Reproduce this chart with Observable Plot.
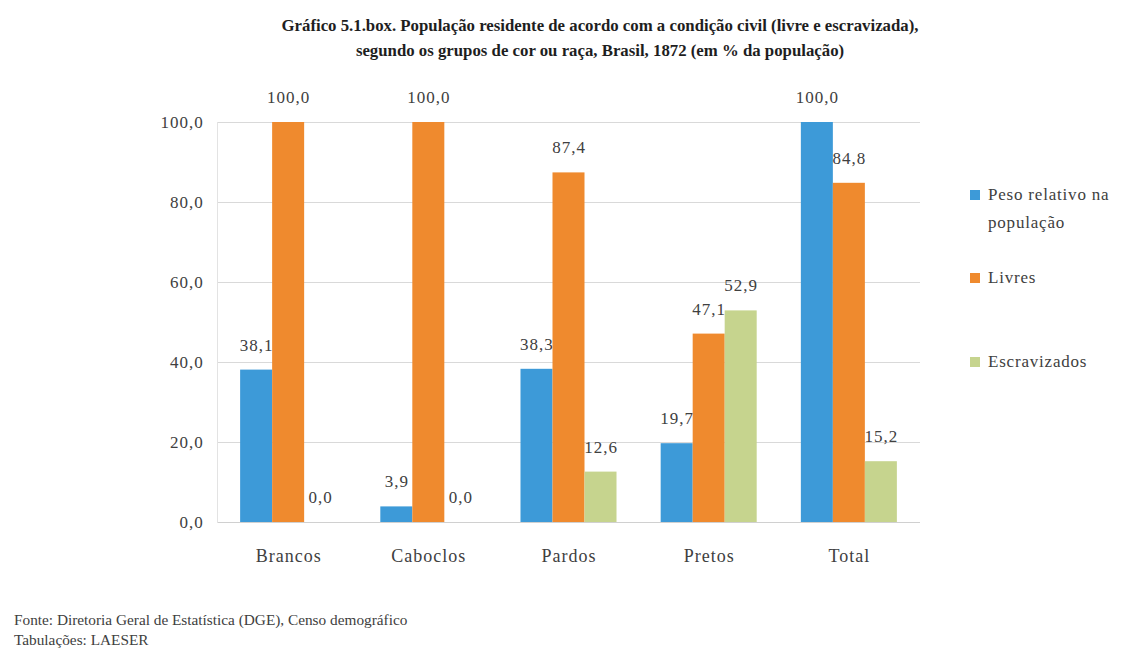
<!DOCTYPE html>
<html>
<head>
<meta charset="utf-8">
<script src="https://cdn.jsdelivr.net/npm/d3@7"></script>
<script src="https://cdn.jsdelivr.net/npm/@observablehq/plot@0.6"></script>
<style>
  body { margin: 0; background: #ffffff; width: 1123px; height: 655px; position: relative; overflow: hidden; font-family: "Liberation Serif", serif; }
  #title { position: absolute; top: 13px; left: 0; width: 1200px; text-align: center; font-weight: bold; font-size: 16.8px; line-height: 25px; color: #1e1e1e; font-family: "Liberation Serif", serif; }
  #bg, #chart { position: absolute; top: 70px; left: 0; }
  #legend { position: absolute; left: 970px; top: 0; font-size: 17px; color: #404040; letter-spacing: 0.8px; font-family: "Liberation Serif", serif; }
  .item { position: absolute; left: 0; white-space: nowrap; }
  .sw { position: absolute; left: 0; width: 10px; height: 10px; }
  .lab { position: absolute; left: 18px; line-height: 28px; }
  #caption { position: absolute; left: 14px; top: 610px; font-size: 15.3px; line-height: 20px; color: #404040; font-family: "Liberation Serif", serif; }
  svg text { font-family: "Liberation Serif", serif; }
  g[aria-label="y-axis tick label"] text, g[aria-label="text"] text, g[aria-label="fx-axis tick label"] text { letter-spacing: 1px; }
</style>
</head>
<body>
<div id="title">Gráfico 5.1.box. População residente de acordo com a condição civil (livre e escravizada),<br>segundo os grupos de cor ou raça, Brasil, 1872 (em % da população)</div>
<div id="bg"></div>
<div id="chart"></div>
<div id="legend"></div>
<div id="caption">Fonte: Diretoria Geral de Estatística (DGE), Censo demográfico<br>Tabulações: LAESER</div>
<script>
const categories = ["Brancos", "Caboclos", "Pardos", "Pretos", "Total"];
const seriesNames = ["Peso relativo na população", "Livres", "Escravizados"];
const peso = [38.1, 3.9, 38.3, 19.7, 100.0];
const livres = [100.0, 100.0, 87.4, 47.1, 84.8];
const escravizados = [0.0, 0.0, 12.6, 52.9, 15.2];
const colors = ["#3d9ad8", "#ef8a2e", "#c6d48e"];
const yTicks = [0, 20, 40, 60, 80, 100];

const seriesValues = [peso, livres, escravizados];
const rows = [];
seriesNames.forEach((s, i) => categories.forEach((c, j) => rows.push({cat: c, series: s, value: seriesValues[i][j]})));

const fmt = v => v.toFixed(1).replace(".", ",");
const serif = "Liberation Serif, serif";

const dims = {width: 1123, height: 530, marginLeft: 217, marginRight: 203, marginTop: 52, marginBottom: 78};

// background layer: gridlines spanning the full plot area (same y scale)
const bg = Plot.plot({
  ...dims,
  style: {fontFamily: serif, background: "transparent"},
  x: {axis: null},
  y: {domain: [0, 100], axis: null},
  marks: [
    Plot.ruleY(yTicks.filter(d => d > 0), {stroke: "#d9d9d9", strokeWidth: 1.2}),
    Plot.ruleY([0], {stroke: "#d0d0d0", strokeWidth: 1.2}),
    Plot.frame({anchor: "left", stroke: "#e3e3e3"})
  ]
});
document.getElementById("bg").appendChild(bg);

const marks = [
  Plot.axisY({ticks: yTicks, tickSize: 0, tickPadding: 37, tickFormat: fmt, fontSize: 17, fontFamily: serif, label: null, fill: "#404040"}),
  Plot.axisFx({anchor: "bottom", tickSize: 0, tickPadding: 27, fontSize: 18, fontFamily: serif, label: null, fill: "#404040"})
];
seriesNames.forEach(s => {
  const d = rows.filter(r => r.series === s);
  marks.push(Plot.barY(d, {fx: "cat", x: "series", y: "value", fill: "series"}));
  marks.push(Plot.text(d, {fx: "cat", x: "series", y: "value", text: d => fmt(d.value), dy: -25, fontSize: 17, fontFamily: serif, fill: "#404040", lineAnchor: "middle"}));
});

const chart = Plot.plot({
  ...dims,
  style: {fontFamily: serif, background: "transparent", color: "#404040"},
  fx: {domain: categories, paddingInner: 0.315, paddingOuter: 0.165, round: false, axis: null, label: null},
  x: {domain: seriesNames, padding: 0, round: false, axis: null},
  y: {domain: [0, 100], axis: null},
  color: {domain: seriesNames, range: colors},
  marks
});
document.getElementById("chart").appendChild(chart);

// legend built from the same series names / colours
const legend = document.getElementById("legend");
const legendLines = [["Peso relativo na", "população"], ["Livres"], ["Escravizados"]];
const legendCenters = [195, 278, 362];
seriesNames.forEach((s, i) => {
  const item = document.createElement("div");
  item.className = "item";
  item.style.top = (legendCenters[i] - 14) + "px";
  const sw = document.createElement("div");
  sw.className = "sw";
  sw.style.background = colors[i];
  sw.style.top = "9px";
  item.appendChild(sw);
  const lab = document.createElement("div");
  lab.className = "lab";
  lab.innerHTML = legendLines[i].join("<br>");
  item.appendChild(lab);
  legend.appendChild(item);
});
</script>
</body>
</html>
